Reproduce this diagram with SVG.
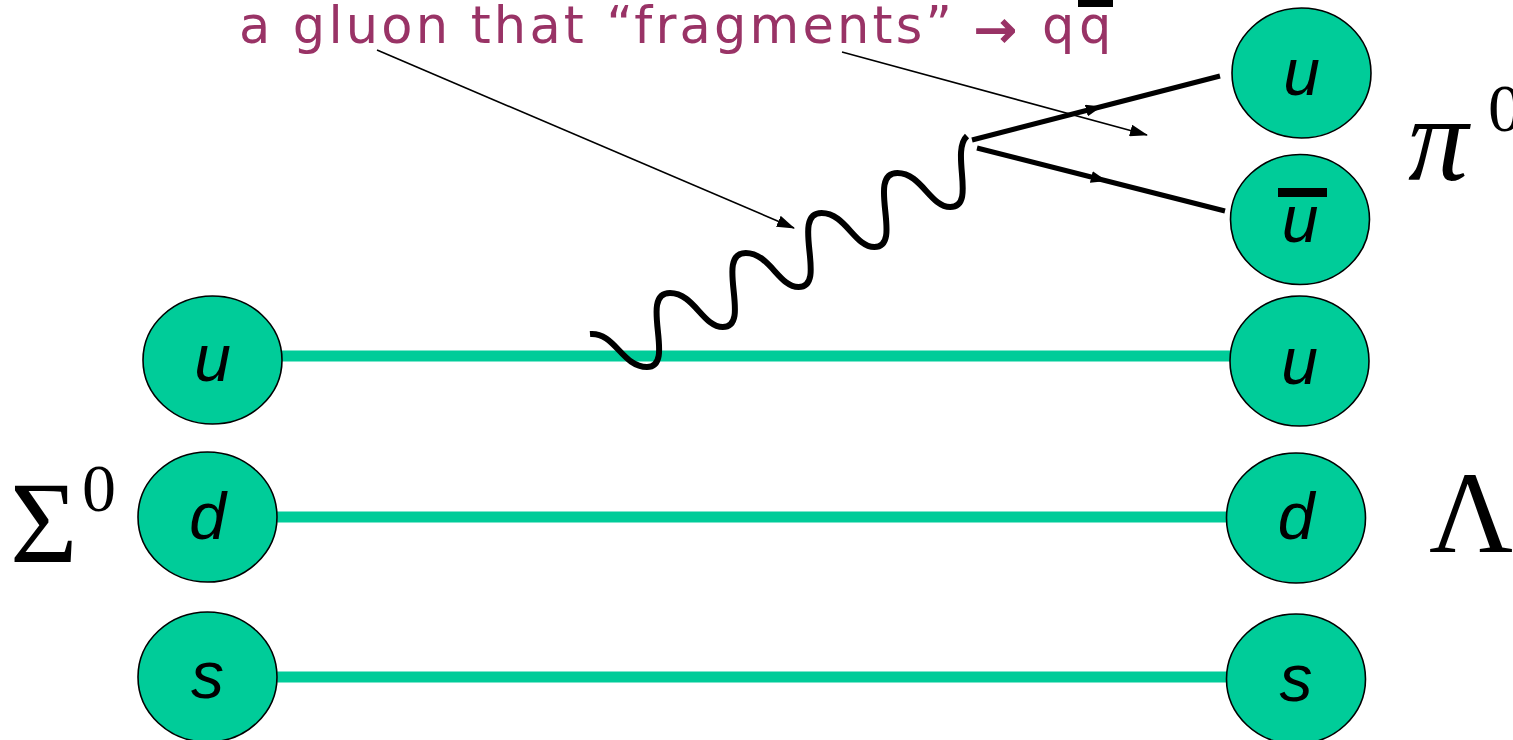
<svg xmlns="http://www.w3.org/2000/svg" width="1513" height="740" viewBox="0 0 1513 740">
<style>
.q{fill:#00CC99;stroke:#000;stroke-width:1.6}
.ql{font-family:"Liberation Sans",Arial,sans-serif;font-style:italic;font-size:66px;fill:#000;text-anchor:middle}
.greek{font-family:"Liberation Serif","Times New Roman",serif;fill:#000}
.flow{stroke:#00CC99;stroke-width:11;fill:none}
.note{font-family:"DejaVu Sans",Verdana,sans-serif;font-size:51px;fill:#993366}
.thin{stroke:#000;stroke-width:1.6;fill:none}
.thick{stroke:#000;stroke-width:5;fill:none}
.gl{stroke:#000;stroke-width:6;fill:none;stroke-linecap:butt}
</style>
<defs>
<marker id="ah" markerUnits="userSpaceOnUse" markerWidth="18" markerHeight="12" viewBox="0 0 18 12" refX="17" refY="6" orient="auto">
<path d="M0,0 L18,6 L0,12 Z" fill="#000"/>
</marker>
<marker id="mid" markerUnits="userSpaceOnUse" markerWidth="16" markerHeight="12" viewBox="0 0 16 12" refX="10" refY="6" orient="auto">
<path d="M0,0 L16,6 L0,12 Z" fill="#000"/>
</marker>
</defs>
<g id="connectors">
<line class="flow" x1="280" y1="356" x2="1232" y2="356"/>
<line class="flow" x1="275" y1="517" x2="1229" y2="517"/>
<line class="flow" x1="275" y1="677" x2="1229" y2="677"/>
</g>
<g id="sigma-u"><ellipse class="q" cx="212.5" cy="360" rx="69.5" ry="64"/><text class="ql" x="212.5" y="381">u</text></g>
<g id="sigma-d"><ellipse class="q" cx="207.5" cy="517" rx="69.5" ry="65"/><text class="ql" x="207.5" y="539">d</text></g>
<g id="sigma-s"><ellipse class="q" cx="207.5" cy="677" rx="69.5" ry="65"/><text class="ql" x="207.5" y="698">s</text></g>
<g id="lambda-u"><ellipse class="q" cx="1299.5" cy="361" rx="69.5" ry="65"/><text class="ql" x="1299.5" y="384">u</text></g>
<g id="lambda-d"><ellipse class="q" cx="1296" cy="518" rx="69.5" ry="65"/><text class="ql" x="1296" y="539">d</text></g>
<g id="lambda-s"><ellipse class="q" cx="1296" cy="679" rx="69.5" ry="65"/><text class="ql" x="1296" y="701">s</text></g>
<g id="pion-u"><ellipse class="q" cx="1301.5" cy="73" rx="69.5" ry="65"/><text class="ql" x="1301.5" y="95">u</text></g>
<g id="pion-ubar"><ellipse class="q" cx="1300" cy="219.5" rx="69.5" ry="65"/><text class="ql" x="1300" y="242">u</text><rect x="1278" y="188" width="49" height="9" fill="#000"/></g>
<g id="sigma-label"><text class="greek" x="10" y="562" font-size="116">Σ</text><text class="greek" x="82" y="511" font-size="68">0</text></g>
<g id="lambda-label"><text class="greek" x="1429" y="552" font-size="116">Λ</text></g>
<g id="pion-label"><text class="greek" x="1408" y="180" font-size="120" font-style="italic">π</text><text class="greek" x="1488" y="131" font-size="68">0</text></g>
<g id="gluon">
<path class="gl" d="M590,334 C615,332 622,367 647,367 C677,367 638,293 670,293 C694,293 702.8,327 722.8,327 C752.8,327 713.8,253 745.8,253 C769.8,253 778.6,287 798.6,287 C828.6,287 789.6,213 821.6,213 C845.6,213 854.4,247 874.4,247 C904.4,247 865.4,173 897.4,173 C921.4,173 930.2,207 950.2,207 C977,207 950,152 967,136"/>
</g>
<g id="quark-lines">
<path class="thick" d="M972,140 L1096,108 L1220,76" marker-mid="url(#mid)"/>
<path class="thick" d="M977,148 L1101,179.5 L1225,211" marker-mid="url(#mid)"/>
</g>
<g id="annotation">
<text class="note" x="239" y="43" style="letter-spacing:3.2px">a gluon that “fragments”</text>
<text class="note" x="974" y="47" font-size="58" stroke="#993366" stroke-width="1.5">→</text>
<text class="note" x="1042 1079" y="43">qq</text>
<rect x="1078" y="0" width="35" height="7" fill="#000"/>
<line class="thin" x1="377" y1="50" x2="794" y2="228" marker-end="url(#ah)"/>
<line class="thin" x1="842" y1="52" x2="1147" y2="135" marker-end="url(#ah)"/>
</g>
</svg>
